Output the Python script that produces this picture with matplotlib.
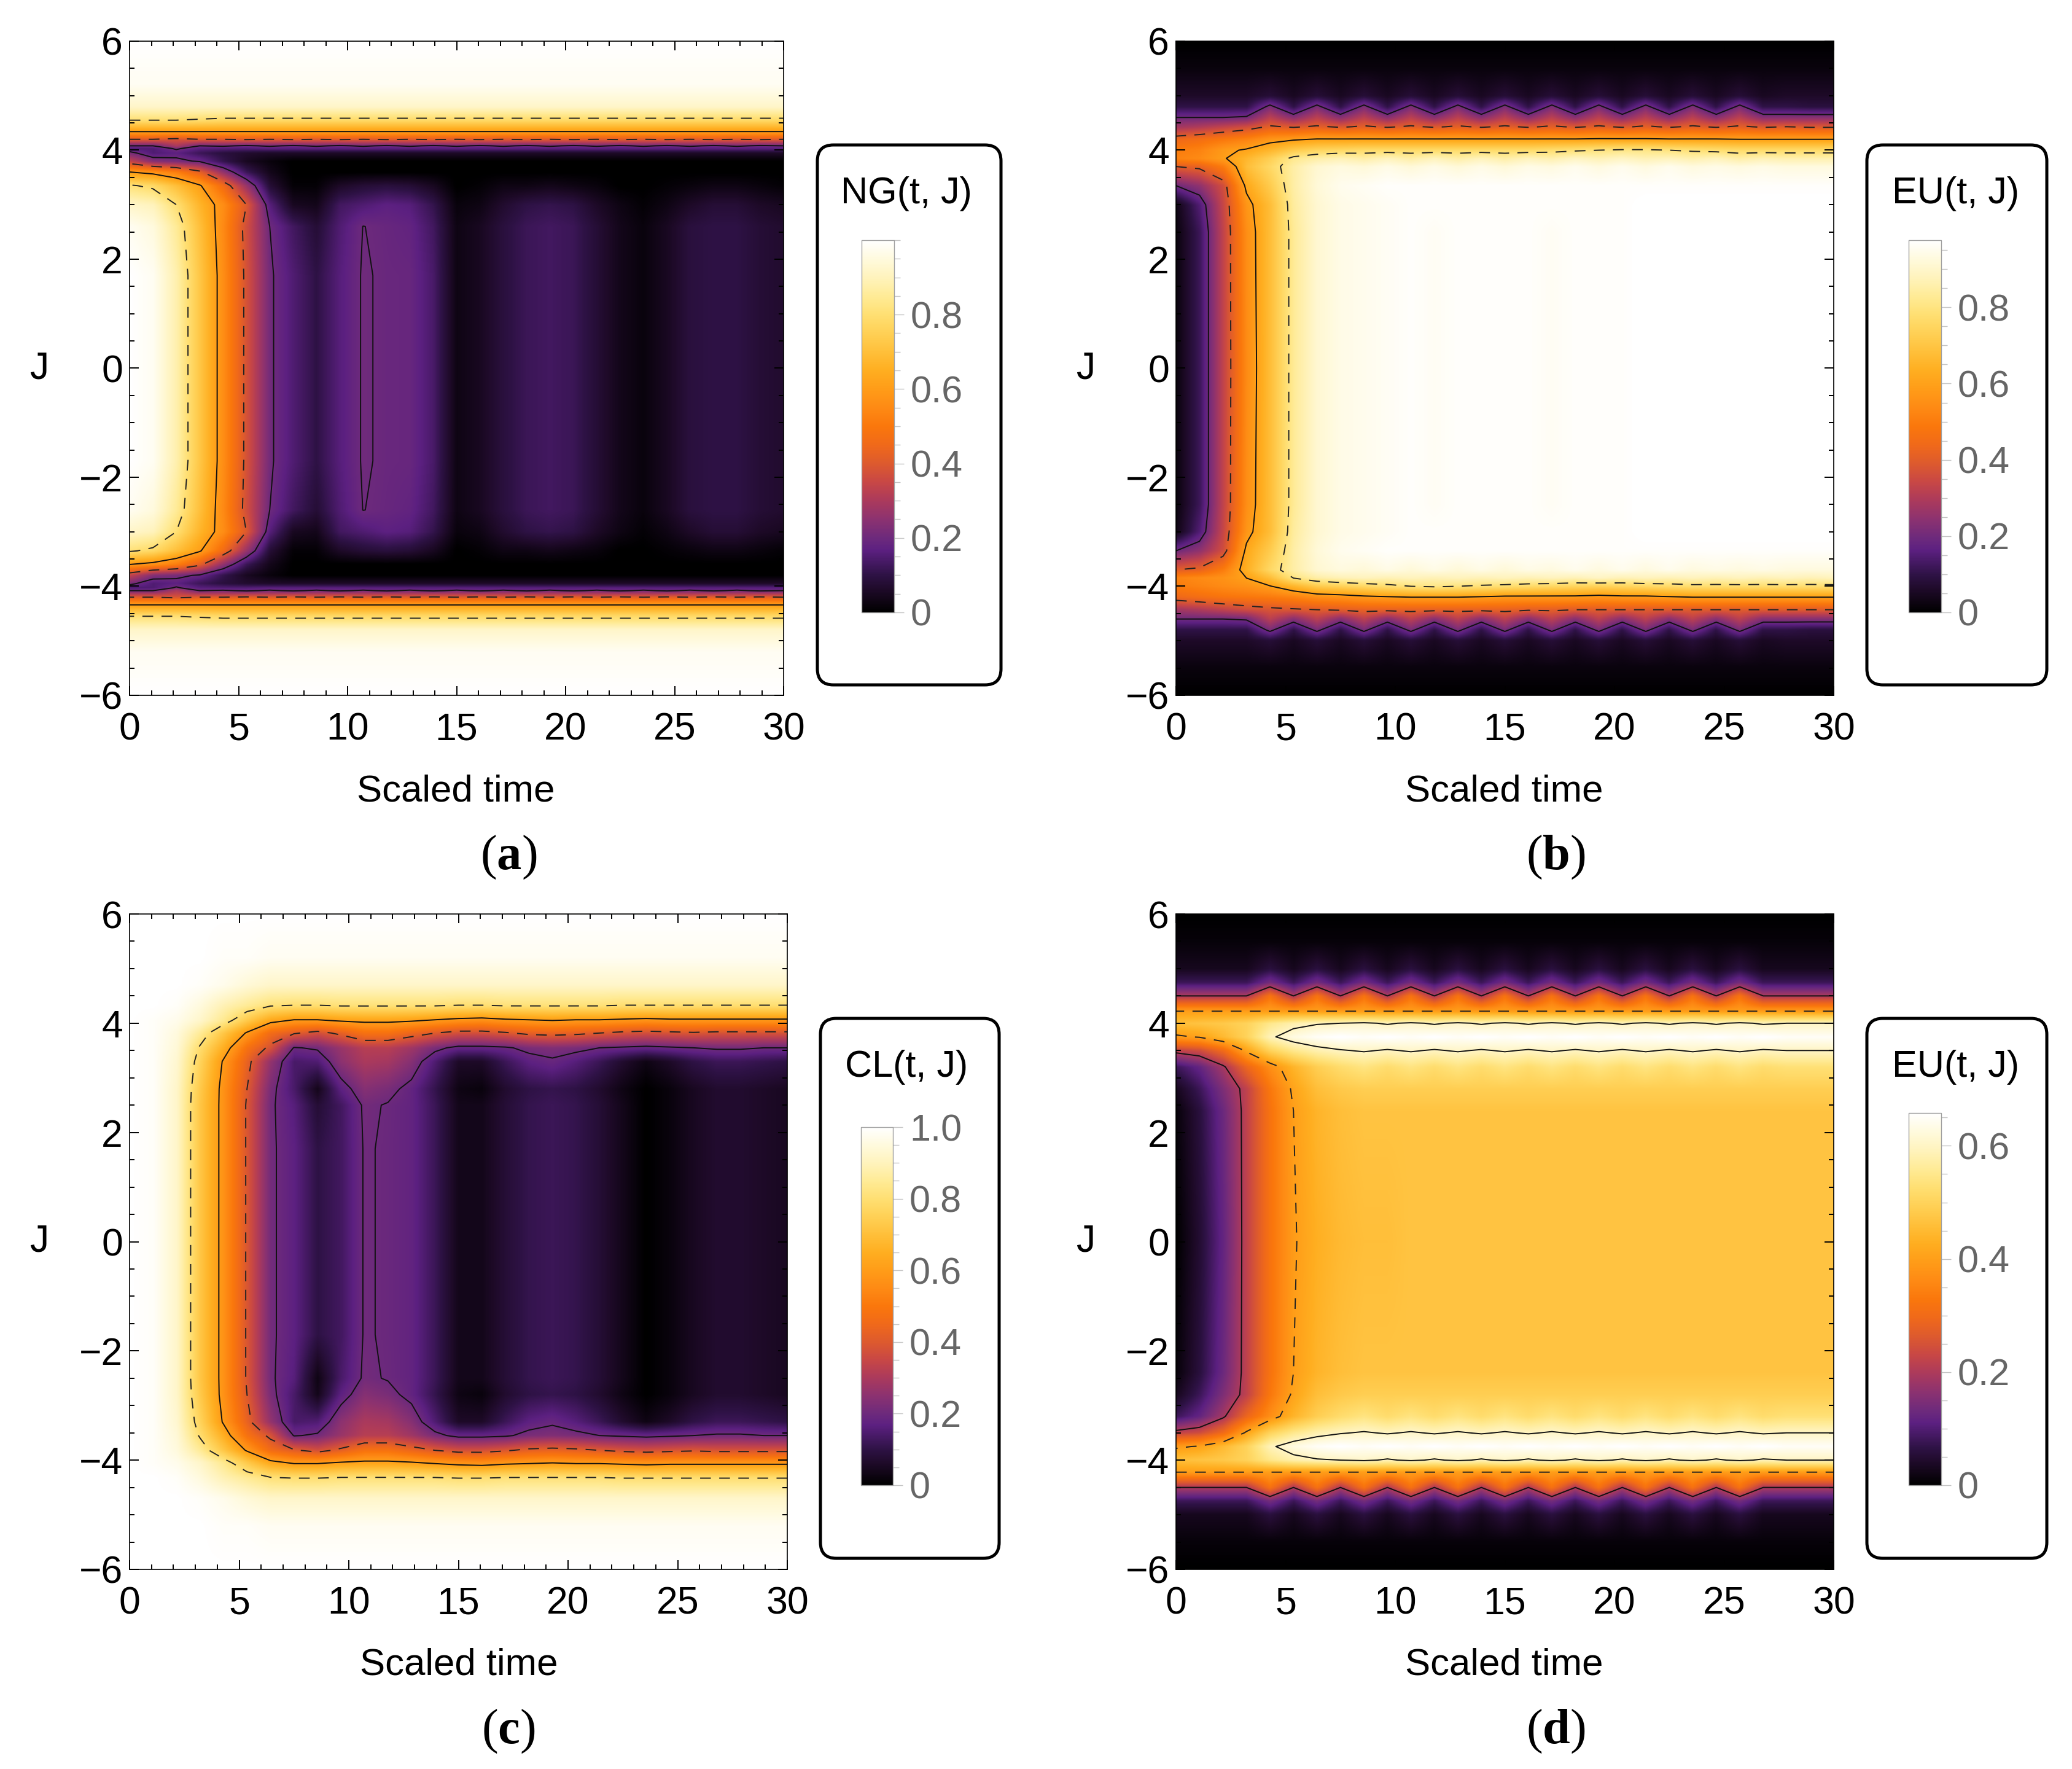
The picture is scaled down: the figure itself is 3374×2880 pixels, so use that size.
import numpy as np
import matplotlib
matplotlib.use('Agg')
import matplotlib.pyplot as plt
from matplotlib.cm import ScalarMappable
from matplotlib.colors import LinearSegmentedColormap, Normalize
from matplotlib.patches import FancyBboxPatch
from matplotlib.ticker import MultipleLocator

plt.rcParams['font.family'] = ['Liberation Sans', 'DejaVu Sans']
plt.rcParams['mathtext.fontset'] = 'custom'
plt.rcParams['mathtext.rm'] = 'Liberation Serif'
plt.rcParams['mathtext.bf'] = 'Liberation Serif:bold'

W, H = 3374, 2880

# Time samples of the simulation, same for all panels
t_grid = np.linspace(0, 30, 29)

# Values in hundredths, J rows from 6 down to 0, lower half is the mirror image
ng_J = [6, 5.2, 4.8, 4.55, 4.33, 4.2, 4.08, 4.03, 3.95, 3.8, 3.6, 3.35, 3.0, 2.6, 1.7, 0]
ng_rows = [
    [100] * 29,
    [98] * 29,
    [92] * 29,
    [80, 80, 80, 79, 78, 78, 78, 78, 78, 78, 78, 78, 78, 78, 78, 78, 78, 78, 78, 78, 78, 78, 78, 78, 78, 78, 78, 78, 78],
    [59] * 29,
    [40, 40, 38, 40, 40, 41, 40, 41, 40, 41, 40, 41, 40, 41, 40, 41, 40, 41, 40, 41, 40, 41, 40, 41, 40, 41, 40, 41, 40],
    [20, 20, 30, 20, 21, 19, 21, 19, 21, 19, 21, 19, 21, 19, 21, 19, 21, 19, 21, 19, 21, 19, 21, 19, 21, 19, 21, 19, 20],
    [15, 15, 21, 16, 15, 15, 16, 16, 16, 16, 16, 16, 16, 16, 16, 16, 16, 16, 16, 16, 16, 16, 16, 16, 16, 16, 16, 16, 16],
    [22, 15, 17, 12, 9, 7, 6, 6, 6, 6, 6, 6, 6, 6, 6, 6, 6, 6, 6, 6, 6, 6, 6, 6, 6, 6, 6, 6, 6],
    [34, 24, 22, 19, 11, 5, 2, 0, 0, 0, 0, 0, 0, 0, 0, 0, 0, 0, 0, 0, 0, 0, 0, 0, 0, 0, 0, 0, 0],
    [60, 57, 52, 42, 26, 12, 4, 0, 0, 0, 0, 0, 0, 0, 0, 0, 0, 0, 0, 0, 0, 0, 0, 0, 0, 0, 0, 0, 0],
    [81, 78, 70, 61, 46, 27, 8, 1, 1, 6, 8, 9, 8, 5, 0, 1, 3, 3, 4, 3, 2, 0, 0, 1, 2, 3, 3, 2, 1],
    [92, 90, 80, 67, 56, 40, 16, 5, 4, 13, 15, 17, 16, 11, 2, 3, 7, 10, 11, 10, 6, 3, 1, 3, 6, 8, 8, 6, 5],
    [98, 95, 85, 70, 55, 37, 20, 13, 8, 15, 20.1, 19, 18, 13, 3, 5, 9, 12, 13, 12, 8, 4, 2, 5, 9, 10, 10, 8, 7],
    [100, 98, 88, 72, 56, 38, 21, 15, 10, 16, 20.5, 19.3, 19, 14, 3, 5, 9, 12, 13, 12, 8, 4, 2, 5, 9, 10, 10, 8, 7],
    [100, 98, 88, 72, 56, 38, 21, 15, 10, 16, 20.5, 19.3, 19, 14, 3, 5, 9, 12, 13, 12, 8, 4, 2, 5, 9, 10, 10, 8, 7],
]

eu_b_J = [6, 5.5, 5.0, 4.8, 4.6, 4.43, 4.2, 4.0, 3.85, 3.7, 3.35, 3.0, 2.5, 0]
eu_b_rows = [
    [0] * 29,
    [2] * 29,
    [6, 6, 6, 6, 8, 5, 8, 5, 8, 5, 8, 5, 8, 5, 8, 5, 8, 5, 8, 5, 8, 5, 8, 5, 8, 5, 6, 6, 6],
    [10, 10, 10, 10, 22, 10, 22, 10, 22, 10, 22, 10, 22, 10, 22, 10, 22, 10, 22, 10, 22, 10, 22, 10, 22, 10, 10, 9, 9],
    [20, 20, 20, 21, 32, 24, 32, 24, 32, 24, 32, 24, 32, 24, 32, 24, 32, 24, 32, 24, 32, 24, 32, 24, 32, 24, 24, 24, 24],
    [28, 30, 33, 36, 41, 39, 41, 39, 41, 39, 41, 39, 41, 39, 41, 39, 41, 39, 41, 39, 41, 39, 41, 39, 41, 39, 40, 39, 39],
    [44, 46, 49, 52, 57, 59, 60.5, 60.5, 60.5, 60.5, 60.5, 60.5, 60.5, 60.5, 60.5, 60.5, 60.5, 60.5, 61, 61, 61, 60.5, 60.5, 60.5, 60, 60, 60, 60, 60],
    [50, 52, 58, 61, 66, 72, 75, 76, 77, 77, 77, 77, 77, 77, 77, 77, 78, 79, 80, 81, 81, 80, 79, 78, 77, 77, 77, 77, 77],
    [52, 54, 59, 66, 73, 82, 85, 87, 85, 88, 85, 88, 85, 88, 85, 88, 86, 89, 87, 89, 87, 88, 86, 88, 85, 87, 86, 86, 86],
    [40, 42, 50, 68, 76, 85, 91, 93, 92, 94, 92, 94, 92, 94, 92, 94, 93, 95, 93, 95, 93, 95, 93, 94, 93, 94, 93, 93, 93],
    [20, 25, 36, 62, 72, 85, 92, 95, 96, 97, 97, 97, 97, 97, 97, 97, 97, 97, 97, 97, 97, 97, 97, 97, 97, 97, 97, 97, 97],
    [3, 15, 34, 57, 68, 84, 91, 94, 95, 96, 97, 97, 97, 97, 97, 97, 97, 97, 97, 97, 98, 98, 98, 98, 98, 98, 98, 98, 98],
    [2, 12, 33, 55, 68, 83, 91, 94, 95, 96, 97, 96, 97, 97, 97, 97, 96, 97, 97, 97, 98, 98, 98, 98, 98, 98, 98, 98, 98],
    [2, 12, 33, 54, 68, 83, 91, 94, 95, 96, 97, 96, 97, 97, 97, 97, 96, 97, 97, 97, 98, 98, 98, 98, 98, 98, 98, 98, 98],
]
# Panel b is not quite symmetric: rows at -4.43, -4.2, -4.0, -3.85 and -3.7
eu_b_lower_rows = {
    5: [28, 30, 33, 36, 38, 39, 40, 41, 42, 42, 42, 42, 42, 42, 42, 41, 41, 40, 40, 40, 40, 40, 40, 40, 40, 40, 40, 40, 40],
    6: [44, 46, 48, 49, 50, 52, 55, 56, 58, 59, 60, 60, 60, 59, 58, 58, 58, 58, 57, 58, 58, 59, 60, 60, 60, 60, 60, 60, 60],
    7: [50, 52, 54, 56, 59.5, 66, 72, 74, 76, 78, 80, 81, 80, 79, 78, 77, 76, 75, 74, 75, 76, 77, 78, 78, 78, 78, 78, 78, 78],
    8: [52, 54, 56, 60, 68, 80, 85, 87, 88, 87, 88, 87, 88, 87, 88, 87, 88, 87, 89, 87, 88, 87, 88, 87, 88, 87, 88, 87, 88],
    9: [40, 42, 50, 64, 76, 85, 91, 93, 92, 94, 92, 94, 92, 94, 92, 94, 93, 95, 93, 95, 93, 95, 93, 94, 93, 94, 93, 93, 93],
}

cl_J = [6, 5.2, 4.7, 4.33, 4.05, 3.82, 3.55, 3.3, 2.8, 2.5, 1.7, 0]
cl_rows = [
    [100] * 29,
    [100, 100, 100, 100, 99, 99, 98, 98, 98, 98, 98, 98, 98, 98, 98, 98, 98, 98, 98, 98, 98, 98, 98, 98, 98, 98, 98, 98, 98],
    [100, 100, 100, 99, 97, 94, 92, 92, 92, 92, 92, 92, 92, 92, 92, 92, 92, 92, 92, 92, 92, 92, 92, 92, 92, 92, 92, 92, 92],
    [100, 100, 99, 95, 89, 85, 81, 80, 80, 81, 81, 81, 81, 81, 80, 80, 81, 81, 81, 81, 81, 80, 80, 80, 80, 80, 80, 80, 80],
    [100, 99, 97, 92, 84, 73, 63, 59, 59, 61, 62, 62, 61, 59, 57, 56, 58, 59, 60, 59, 59, 58, 57, 58, 58, 58, 58, 58, 58],
    [100, 99, 95, 85, 72, 59, 46, 41, 37, 42, 48, 48, 44, 40, 37, 37, 39, 42, 43, 42, 40, 38, 37, 38, 39, 38, 38, 38, 38],
    [100, 99, 94, 79, 65, 48, 38, 19.5, 21, 27, 32, 32, 28, 22, 18, 18, 19, 22, 23, 22, 20, 19, 18, 19, 20, 21, 21, 20, 20],
    [100, 99, 93, 76, 59, 43, 26, 14, 15, 25, 30, 29, 24, 15, 6, 6, 12, 17, 19, 16, 12, 7, 3, 6, 10, 12, 12, 11, 10],
    [100, 99, 92, 73, 57, 40, 22, 14, 4, 17, 24, 22, 18, 11, 3, 2, 7, 10, 11, 10, 7, 3, 0, 2, 5, 7, 7, 6, 5],
    [100, 99, 92, 72, 57, 39, 21, 16, 8, 13, 21, 19.6, 18, 12, 4, 4, 8, 11, 12, 11, 8, 4, 0, 2, 5, 7, 7, 6, 5],
    [100, 99, 92, 72, 57, 39, 21, 17, 10, 13, 20.5, 19.4, 18, 12, 4, 4, 8, 11, 12, 11, 8, 4, 0, 2, 5, 7, 7, 6, 5],
    [100, 99, 92, 72, 57, 39, 21, 17, 10, 13, 20.5, 19.4, 18, 12, 4, 4, 8, 11, 12, 11, 8, 4, 0, 2, 5, 7, 7, 6, 5],
]
# Dark patch near J = -2.5 that the upper half does not have
cl_lower_rows = {
    9: [100, 99, 92, 72, 57, 39, 21, 16, 3, 14, 21, 19.6, 18, 12, 4, 4, 8, 11, 12, 11, 8, 4, 0, 2, 5, 7, 7, 6, 5],
}

eu_d_J = [6, 5.5, 5.0, 4.75, 4.5, 4.22, 4.0, 3.75, 3.5, 3.2, 2.8, 2.4, 0]
eu_d_rows = [
    [0] * 29,
    [1] * 29,
    [3, 3, 3, 3, 6, 3, 6, 3, 6, 3, 6, 3, 6, 3, 6, 3, 6, 3, 6, 3, 6, 3, 6, 3, 6, 3, 3, 3, 3],
    [8, 8, 8, 8, 14, 8, 14, 8, 14, 8, 14, 8, 14, 8, 14, 8, 14, 8, 14, 8, 14, 8, 14, 8, 14, 8, 8, 8, 8],
    [20, 20, 20, 20, 32, 20, 32, 20, 32, 20, 32, 20, 32, 20, 32, 20, 32, 20, 32, 20, 32, 20, 32, 20, 32, 20, 20, 20, 20],
    [40] * 29,
    [46, 47, 48, 50, 55, 58, 59.5, 60, 60.8, 59.4, 60.8, 59.4, 60.8, 59.4, 60.8, 59.4, 60.8, 59.4, 60.8, 59.4, 60.8, 59.4, 60.8, 59.4, 60.8, 59.4, 60, 60, 60],
    [39, 40.5, 45, 50, 59, 63, 65, 66, 65, 66, 65, 66, 65, 66, 65, 66, 65, 66, 65, 66, 65, 66, 65, 66, 65, 66, 65, 65, 65],
    [22, 24, 30, 41, 50, 55, 58, 59.6, 60.5, 59.5, 60.5, 59.5, 60.5, 59.5, 60.5, 59.5, 60.5, 59.5, 60.5, 59.5, 60.5, 59.5, 60.5, 59.5, 60.5, 59.5, 60, 60, 60],
    [8, 12, 19, 29, 37, 44, 49, 52, 54, 52, 54, 52, 54, 52, 54, 52, 54, 52, 54, 52, 54, 52, 54, 52, 54, 52, 53, 53, 53],
    [3, 8, 15, 22, 33, 41, 46, 48, 49, 49, 49, 49, 49, 49, 49, 49, 49, 49, 49, 49, 49, 49, 49, 49, 49, 49, 49, 49, 49],
    [1, 6, 13, 22, 32, 40, 44, 46, 47, 47, 47, 47, 47, 47, 47, 47, 47, 47, 47, 47, 47, 47, 47, 47, 47, 47, 47, 47, 47],
    [0, 5, 12, 22, 32, 39.5, 43, 45, 46, 46, 47, 47, 47, 47, 47, 47, 47, 47, 47, 47, 47, 47, 47, 47, 47, 47, 47, 47, 47],
]

# Sampled off the reference colour bar
cmap_stops = [0, 0.06, 0.1, 0.167, 0.2, 0.25, 0.3, 0.35, 0.4, 0.45, 0.5, 0.55, 0.6, 0.65, 0.7, 0.75, 0.8, 0.85, 0.9, 0.95, 1]
cmap_colors = ['#000000', '#1e0a28', '#2e1245', '#5c2081', '#6d2a7c', '#8c3270', '#ab3a5c', '#c84745', '#dd5a2e',
               '#f0691a', '#fa770c', '#fe8a14', '#ff9c18', '#ffae20', '#ffbf3a', '#ffd055', '#ffdf72', '#ffeb96',
               '#fff3bc', '#fffadd', '#ffffff']
sunset = LinearSegmentedColormap.from_list('sunset', list(zip(cmap_stops, cmap_colors)), N=512)


def frac_box(x0, y0, x1, y1):
    """Pixel box (y down) to a figure fraction rectangle."""
    return [x0 / W, 1 - y1 / H, (x1 - x0) / W, (y1 - y0) / H]


def mirror(J_down, rows, lower=None):
    """Top half rows (J from 6 to 0) to a full ascending grid in real units."""
    J_down = np.array(J_down, dtype=float)
    z = np.array(rows, dtype=float) / 100
    z_low = z.copy()
    for idx, row in (lower or {}).items():
        z_low[idx] = np.array(row, dtype=float) / 100
    J_full = np.concatenate([-J_down, J_down[-2::-1]])
    z_full = np.vstack([z_low, z[-2::-1]])
    return J_full, z_full


def upsample(J_full, z_full, nt=700, nj=1000):
    t_fine = np.linspace(0, 30, nt)
    J_fine = np.linspace(-6, 6, nj)
    by_t = np.array([np.interp(t_fine, t_grid, row) for row in z_full])
    return np.array([np.interp(J_fine, J_full, col) for col in by_t.T]).T


def draw_panel(fig, box, J_down, rows, vmax, lower=None):
    J_full, z_full = mirror(J_down, rows, lower)
    ax = fig.add_axes(frac_box(*box))
    ax.imshow(upsample(J_full, z_full), extent=[0, 30, -6, 6], origin='lower', aspect='auto',
              cmap=sunset, norm=Normalize(0, vmax), interpolation='bilinear')
    ax.contour(t_grid, J_full, z_full, levels=[0.2, 0.6], colors='#111111', linewidths=1.4, linestyles='solid')
    ax.contour(t_grid, J_full, z_full, levels=[0.4, 0.8], colors='#222222', linewidths=1.4,
               linestyles=[(0, (9, 7))])

    ax.set_xlim(0, 30)
    ax.set_ylim(-6, 6)
    ax.set_xticks(range(0, 31, 5))
    ax.set_yticks(range(-6, 7, 2))
    ax.xaxis.set_minor_locator(MultipleLocator(1))
    ax.yaxis.set_minor_locator(MultipleLocator(0.5))
    ax.tick_params(which='both', direction='in', top=True, right=True, width=1.4, labelsize=45)
    ax.tick_params(which='major', length=11)
    ax.tick_params(which='minor', length=6)
    ax.tick_params(axis='x', which='major', pad=19)
    ax.tick_params(axis='y', which='major', pad=8)
    for spine in ax.spines.values():
        spine.set_linewidth(1.2)
    return ax


def draw_legend(fig, overlay, frame, title, title_xy, bar, vmax, ticks, tick_labels):
    x0, y0, x1, y1 = frame
    overlay.add_patch(FancyBboxPatch((x0, y0), x1 - x0, y1 - y0, boxstyle='round,pad=0,rounding_size=26',
                                     facecolor='white', edgecolor='black', linewidth=3.6))
    overlay.text(title_xy[0], title_xy[1], title, fontsize=44, ha='center', va='center')

    cax = fig.add_axes(frac_box(*bar))
    cbar = fig.colorbar(ScalarMappable(Normalize(0, vmax), sunset), cax=cax)
    cbar.set_ticks(ticks, labels=tick_labels)
    cax.yaxis.set_minor_locator(MultipleLocator(0.05))
    cax.tick_params(which='major', length=11.5, width=1, color='#c4c4c4', labelcolor='#666666', labelsize=44, pad=8)
    cax.tick_params(which='minor', length=7, width=1, color='#c4c4c4')
    cbar.outline.set_edgecolor('#a0a0a0')
    cbar.outline.set_linewidth(1)


fig = plt.figure(figsize=(W / 100, H / 100), dpi=100)

# Pixel overlay for legend frames and free text
overlay = fig.add_axes([0, 0, 1, 1])
overlay.set_xlim(0, W)
overlay.set_ylim(H, 0)
overlay.axis('off')

draw_panel(fig, (211, 67, 1276, 1132), ng_J, ng_rows, 1.0)
draw_panel(fig, (1915, 67, 2986, 1132), eu_b_J, eu_b_rows, 0.976, lower=eu_b_lower_rows)
draw_panel(fig, (211, 1488, 1282, 2555), cl_J, cl_rows, 1.0, lower=cl_lower_rows)
draw_panel(fig, (1915, 1488, 2986, 2555), eu_d_J, eu_d_rows, 0.658)

draw_legend(fig, overlay, (1331, 236, 1630, 1115), 'NG(t, J)', (1476, 316), (1403, 391, 1456, 997), 1.0,
            [0, 0.2, 0.4, 0.6, 0.8], ['0', '0.2', '0.4', '0.6', '0.8'])
draw_legend(fig, overlay, (3040, 236, 3333, 1115), 'EU(t, J)', (3185, 316), (3108, 391, 3161, 997), 0.976,
            [0, 0.2, 0.4, 0.6, 0.8], ['0', '0.2', '0.4', '0.6', '0.8'])
draw_legend(fig, overlay, (1336, 1658, 1627, 2537), 'CL(t, J)', (1476, 1738), (1402, 1835, 1454, 2418), 1.0,
            [0, 0.2, 0.4, 0.6, 0.8, 1.0], ['0', '0.2', '0.4', '0.6', '0.8', '1.0'])
draw_legend(fig, overlay, (3040, 1658, 3333, 2537), 'EU(t, J)', (3185, 1738), (3108, 1812, 3161, 2418), 0.658,
            [0, 0.2, 0.4, 0.6], ['0', '0.2', '0.4', '0.6'])

# Axis titles and panel letters
for x, y in [(64, 600), (1768, 600), (64, 2021), (1768, 2021)]:
    overlay.text(x, y, 'J', fontsize=45, ha='center', va='center')
for x, y in [(742, 1289), (2449, 1289), (747, 2711), (2449, 2711)]:
    overlay.text(x, y, 'Scaled time', fontsize=44.5, ha='center', va='center')
for x, y, letter in [(828, 1396, 'a'), (2533, 1396, 'b'), (828, 2819, 'c'), (2533, 2819, 'd')]:
    overlay.text(x, y, r'$\mathrm{(}\mathbf{' + letter + r'}\mathrm{)}$', fontsize=58, ha='center', va='center')

fig.savefig('out.png', dpi=100)
plt.close(fig)
